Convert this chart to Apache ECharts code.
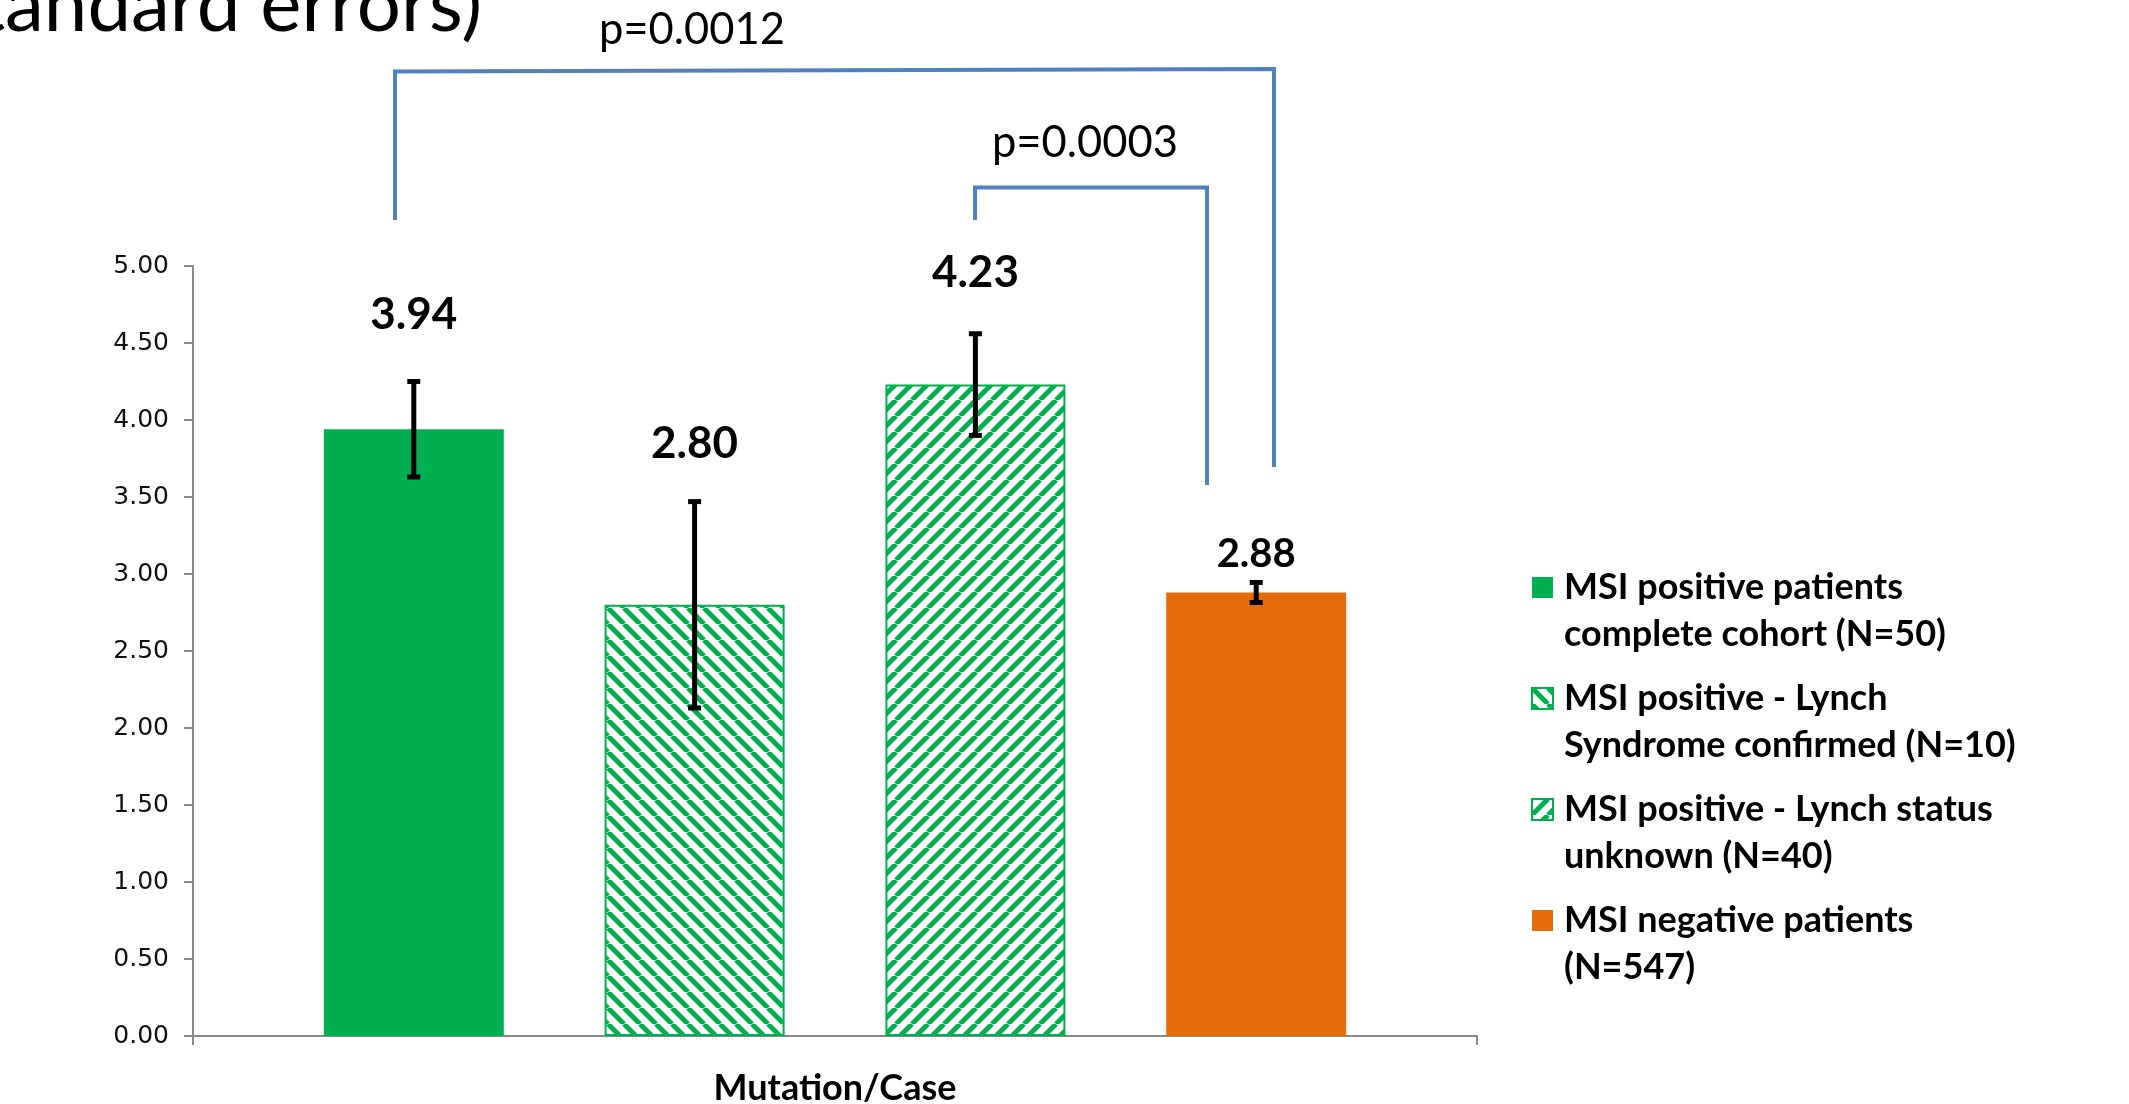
<!DOCTYPE html>
<html><head><meta charset="utf-8">
<script src="https://cdn.jsdelivr.net/npm/echarts@6/dist/echarts.min.js"></script>
<style>html,body{margin:0;padding:0;background:#fff}#c{width:2129px;height:1104px}</style>
</head><body><div id="c"></div>
<script>
// ---- data ----
const categories = ['Mutation/Case'];
const seriesNames = [
  'MSI positive patients\ncomplete cohort (N=50)',
  'MSI positive - Lynch\nSyndrome confirmed (N=10)',
  'MSI positive - Lynch status\nunknown (N=40)',
  'MSI negative patients\n(N=547)'
];
const meanValues = [3.94, 2.80, 4.23, 2.88];
const stdErrors = [0.31, 0.67, 0.33, 0.065];
const pValueLabels = ['p=0.0012', 'p=0.0003'];
const titleFragment = 'standard errors)';

// ---- styles ----
const GREEN = '#00B050', ORANGE = '#E46C0A', BLUE = '#4F81BD';
const BAR_WIDTH = 180, BAR_GAP = 0.56;

function makeHatch(dir) {
  const S = 16, c = document.createElement('canvas');
  c.width = S; c.height = S;
  const g = c.getContext('2d');
  g.fillStyle = '#fff'; g.fillRect(0, 0, S, S);
  g.strokeStyle = GREEN; g.lineWidth = 5;
  for (const o of [-S, 0, S]) {
    g.beginPath();
    if (dir === 'back') { g.moveTo(o, 0); g.lineTo(o + S, S); }
    else { g.moveTo(o, S); g.lineTo(o + S, 0); }
    g.stroke();
  }
  return c;
}

const itemStyles = [
  { color: GREEN },
  { color: { image: makeHatch('back'), repeat: 'repeat' }, borderColor: GREEN, borderWidth: 2 },
  { color: { image: makeHatch('fwd'), repeat: 'repeat' }, borderColor: GREEN, borderWidth: 2 },
  { color: ORANGE }
];
const labelSizes = [44, 44, 44, 40];
const labelDistances = [92, 139, 90, 18];

const barSeries = meanValues.map((v, i) => ({
  type: 'bar',
  name: seriesNames[i],
  data: [v],
  barWidth: BAR_WIDTH,
  barGap: (BAR_GAP * 100) + '%',
  itemStyle: itemStyles[i],
  label: {
    show: true, position: 'top', distance: labelDistances[i],
    formatter: p => p.value.toFixed(2),
    fontFamily: 'Lato', fontWeight: 'bold', fontSize: labelSizes[i],
    lineHeight: labelSizes[i], color: '#000'
  },
  z: 2
}));

const errorSeries = {
  type: 'custom',
  name: 'SE',
  data: meanValues.map((v, i) => [0, v, stdErrors[i], i]),
  encode: { x: 0, y: 1 },
  z: 5,
  renderItem(params, api) {
    const idx = api.value(3), v = api.value(1), se = api.value(2);
    const dx = (idx - 1.5) * BAR_WIDTH * (1 + BAR_GAP);
    const hi = api.coord([0, v + se]);
    const lo = api.coord([0, v - se]);
    const x = hi[0] + dx;
    const st = { stroke: '#000', lineWidth: 5 };
    return {
      type: 'group', children: [
        { type: 'line', shape: { x1: x, y1: hi[1], x2: x, y2: lo[1] }, style: st },
        { type: 'line', shape: { x1: x - 6.5, y1: hi[1], x2: x + 6.5, y2: hi[1] }, style: st },
        { type: 'line', shape: { x1: x - 6.5, y1: lo[1], x2: x + 6.5, y2: lo[1] }, style: st }
      ]
    };
  }
};

const chart = echarts.init(document.getElementById('c'));
chart.setOption({
  animation: false,
  backgroundColor: '#fff',
  grid: { left: 193, right: 652, top: 266, bottom: 68, containLabel: false, outerBoundsMode: 'none' },
  xAxis: {
    type: 'category', data: categories,
    axisLine: { lineStyle: { color: '#898989', width: 2 } },
    axisTick: { show: true, length: 9, lineStyle: { color: '#898989', width: 2 } },
    axisLabel: { fontFamily: 'Lato', fontWeight: 'bold', fontSize: 36, color: '#000', margin: 34 },
    splitLine: { show: false }
  },
  yAxis: {
    type: 'value', min: 0, max: 5, interval: 0.5,
    axisLine: { show: true, lineStyle: { color: '#898989', width: 2 } },
    axisTick: { show: true, length: 9, lineStyle: { color: '#898989', width: 2 } },
    axisLabel: { formatter: v => v.toFixed(2), fontFamily: 'DejaVu Sans', fontSize: 25, color: '#111', margin: 24 },
    splitLine: { show: false }
  },
  legend: {
    orient: 'vertical', left: 1531, top: 517, padding: 0,
    data: seriesNames,
    formatter: name => '\n' + name,
    icon: 'rect', itemWidth: 21, itemHeight: 21, itemGap: -30,
    textStyle: { fontFamily: 'Lato', fontWeight: 'bold', fontSize: 36, lineHeight: 47, color: '#000', padding: [0, 0, 0, 6] }
  },
  series: [...barSeries, errorSeries],
  graphic: [
    { type: 'text', style: { text: titleFragment, x: 482, y: 6, align: 'right', verticalAlign: 'middle', font: '78px Lato', fill: '#000' } },
    { type: 'polyline', shape: { points: [[395, 220], [395, 71.5], [1274, 69], [1274, 467]] }, style: { stroke: BLUE, lineWidth: 4, fill: null, lineJoin: 'miter' } },
    { type: 'polyline', shape: { points: [[975, 220], [975, 187.5], [1207, 187.5], [1207, 485]] }, style: { stroke: BLUE, lineWidth: 4, fill: null, lineJoin: 'miter' } },
    { type: 'text', style: { text: pValueLabels[0], x: 692, y: 30, align: 'center', verticalAlign: 'middle', font: '43.5px Lato', fill: '#000' } },
    { type: 'text', style: { text: pValueLabels[1], x: 1085, y: 143, align: 'center', verticalAlign: 'middle', font: '43.5px Lato', fill: '#000' } }
  ]
});
</script></body></html>
